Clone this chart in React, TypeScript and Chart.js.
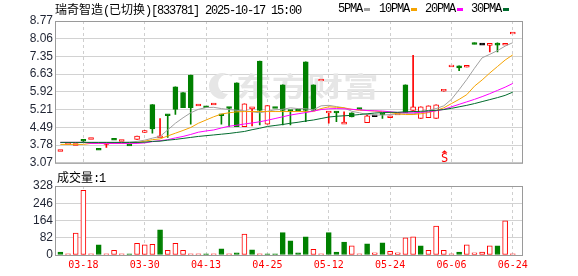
import React, { useEffect, useRef } from 'react';
import { Chart, registerables } from 'chart.js';

Chart.register(...registerables);

// ---------- data ----------
const stockName = '瑞奇智造';
const stockState = '已切换';
const stockCode = '833781';
const stampTime = '2025-10-17 15:00';
const volumeTitle = '成交量';
const volumeUnit = '1';

const maNames = ['5PMA', '10PMA', '20PMA', '30PMA'];
const maColors = ['#a0a0a0', '#f5a300', '#ff00ff', '#006b2d'];

const tickIndex = [3, 11, 19, 27, 35, 43, 51, 59];
const tickDates = ['03-18', '03-30', '04-13', '04-25', '05-12', '05-24', '06-06', '06-24'];

const priceTickLabels = ['3.07', '3.78', '4.49', '5.21', '5.92', '6.63', '7.35', '8.06', '8.77'];
const priceMin = 3.07;
const priceMax = 8.77;
const volTickValues = [0, 82, 164, 246, 328];
const volTickLabels = ['0', '82', '164', '246', '328'];

const openP = [
  3.56, 3.84, 3.80, 3.99, 4.04, 3.62, 3.84, 4.02, 3.96, 3.79,
  4.01, 4.29, 5.41, 4.09, 5.01, 6.12, 5.89, 6.60, 5.39, 5.33,
  5.43, 5.01, 5.30, 6.28, 4.52, 5.27, 7.16, 4.62, 5.30, 6.20,
  5.18, 5.19, 7.13, 6.20, 6.39, 5.10, 5.12, 4.64, 5.08, 5.26,
  4.68, 4.96, 5.05, 4.91, 5.03, 6.20, 5.18, 4.85, 4.88, 4.85,
  5.98, 6.96, 6.97, 6.92, 7.89, 7.84, 7.82, 7.85, 7.83, 8.28,
];
const highP = [
  3.57, 3.85, 3.81, 4.01, 4.05, 3.62, 3.86, 4.02, 3.97, 3.79,
  4.14, 4.37, 5.41, 4.85, 5.01, 6.12, 5.89, 6.60, 5.40, 5.33,
  5.44, 5.01, 5.30, 6.28, 5.44, 5.29, 7.16, 5.37, 5.30, 6.20,
  5.18, 5.19, 7.13, 6.20, 6.40, 5.12, 5.12, 5.12, 5.08, 5.26,
  5.01, 4.96, 5.05, 4.95, 5.04, 6.20, 7.39, 5.32, 5.36, 5.40,
  6.00, 6.97, 6.97, 6.98, 7.89, 7.84, 7.84, 7.89, 7.84, 8.29,
];
const lowP = [
  3.56, 3.84, 3.80, 3.91, 4.04, 3.61, 3.69, 4.01, 3.96, 3.78,
  4.01, 4.29, 4.26, 4.09, 4.09, 5.01, 5.29, 4.62, 5.39, 5.32,
  5.43, 4.62, 4.52, 4.52, 4.52, 4.55, 4.59, 4.62, 5.29, 4.59,
  4.59, 5.18, 4.72, 5.18, 6.39, 4.66, 4.72, 4.64, 4.91, 5.25,
  4.68, 4.96, 4.85, 4.89, 5.03, 5.09, 5.18, 4.85, 4.88, 4.85,
  5.95, 6.96, 6.77, 6.92, 7.85, 7.84, 7.53, 7.53, 7.83, 8.28,
];
const closeP = [
  3.57, 3.85, 3.81, 3.96, 4.05, 3.61, 3.86, 4.01, 3.97, 3.78,
  4.14, 4.37, 4.43, 4.14, 4.99, 5.22, 5.29, 5.29, 5.40, 5.32,
  5.44, 4.99, 5.28, 4.52, 5.44, 5.29, 5.18, 5.37, 5.29, 5.18,
  5.16, 5.18, 5.18, 5.18, 6.40, 5.12, 5.10, 4.69, 4.91, 5.25,
  4.96, 4.96, 5.03, 4.93, 5.04, 5.09, 5.32, 5.32, 5.36, 5.40,
  6.00, 6.97, 6.88, 6.98, 7.85, 7.84, 7.84, 7.83, 7.84, 8.29,
];

const ma5 = [
  3.89, 3.89, 3.89, 3.89, 3.89, 3.89, 3.89, 3.89, 3.89, 3.90,
  3.93, 3.98, 4.06, 4.13, 4.39, 4.66, 4.88, 5.08, 5.22, 5.29,
  5.30, 5.25, 5.21, 5.18, 5.16, 5.12, 5.08, 5.14, 5.20, 5.22,
  5.28, 5.25, 5.24, 5.20, 5.36, 5.38, 5.33, 5.28, 5.14, 5.08,
  5.01, 4.99, 4.99, 5.01, 5.03, 5.04, 5.04, 5.08, 5.18, 5.25,
  5.36, 5.62, 6.01, 6.42, 6.87, 7.29, 7.43, 7.58, 7.76, 7.90,
];
const ma10 = [
  3.81, 3.81, 3.81, 3.81, 3.85, 3.85, 3.85, 3.85, 3.85, 3.85,
  3.88, 3.94, 4.00, 4.03, 4.15, 4.26, 4.37, 4.49, 4.66, 4.79,
  4.92, 5.03, 5.08, 5.12, 5.13, 5.13, 5.13, 5.13, 5.13, 5.13,
  5.13, 5.13, 5.13, 5.13, 5.25, 5.32, 5.30, 5.28, 5.22, 5.18,
  5.17, 5.15, 5.12, 5.09, 5.04, 5.01, 5.01, 5.04, 5.09, 5.17,
  5.28, 5.45, 5.62, 5.81, 6.15, 6.40, 6.68, 6.94, 7.20, 7.41,
];
const ma20 = [
  3.89, 3.89, 3.89, 3.89, 3.85, 3.85, 3.85, 3.85, 3.85, 3.85,
  3.85, 3.87, 3.92, 3.96, 4.00, 4.07, 4.13, 4.21, 4.30, 4.35,
  4.39, 4.47, 4.54, 4.58, 4.63, 4.67, 4.72, 4.78, 4.85, 4.92,
  4.99, 5.04, 5.09, 5.15, 5.21, 5.24, 5.25, 5.24, 5.22, 5.20,
  5.17, 5.16, 5.15, 5.12, 5.09, 5.08, 5.08, 5.10, 5.12, 5.16,
  5.22, 5.32, 5.42, 5.52, 5.62, 5.73, 5.85, 5.98, 6.11, 6.26,
];
const ma30 = [
  3.89, 3.89, 3.89, 3.89, 3.89, 3.89, 3.89, 3.89, 3.89, 3.89,
  3.89, 3.90, 3.93, 3.94, 3.98, 4.01, 4.05, 4.09, 4.13, 4.16,
  4.19, 4.22, 4.25, 4.29, 4.33, 4.40, 4.46, 4.53, 4.57, 4.61,
  4.66, 4.70, 4.75, 4.79, 4.85, 4.91, 4.94, 4.96, 4.98, 5.01,
  5.04, 5.07, 5.09, 5.10, 5.10, 5.12, 5.13, 5.14, 5.16, 5.18,
  5.21, 5.26, 5.32, 5.38, 5.45, 5.53, 5.61, 5.69, 5.78, 5.91,
];

const volume = [
  14, 5, 104, 307, 5, 48, 5, 22, 5, 5,
  56, 48, 51, 120, 22, 56, 22, 5, 5, 5,
  5, 29, 5, 10, 99, 24, 5, 5, 5, 106,
  67, 10, 86, 27, 5, 106, 14, 62, 43, 5,
  53, 10, 58, 18, 10, 82, 86, 43, 22, 138,
  22, 5, 14, 48, 10, 14, 43, 43, 162, 5,
];
// 1 = rising (red hollow), 0 = falling (green)
const volumeUp = [
  0, 1, 1, 1, 1, 0, 1, 1, 1, 0,
  1, 1, 1, 0, 1, 1, 1, 1, 1, 0,
  1, 0, 1, 0, 1, 0, 1, 0, 0, 0,
  0, 0, 0, 1, 1, 0, 0, 0, 1, 1,
  0, 1, 0, 1, 1, 1, 1, 0, 1, 1,
  1, 1, 0, 1, 1, 1, 1, 0, 1, 1,
];

const signalIndex = 50;
const signalText = 'S';
const watermarkText = '东方财富';

// ---------- helpers ----------
const RED = '#ff0000';
const GREEN = '#008000';
const BLACK = '#000000';
const idx = closeP.map((_, i) => i);
const candleColor = idx.map((i) =>
  closeP[i] > openP[i] ? RED : closeP[i] < openP[i] ? GREEN : BLACK
);
const candleFill = idx.map((i) => (closeP[i] > openP[i] ? '#ffffff' : candleColor[i]));
const MIN_BODY = 0.075;
const bodyData = idx.map((i) => {
  let lo = Math.min(openP[i], closeP[i]);
  let hi = Math.max(openP[i], closeP[i]);
  if (hi - lo < MIN_BODY) {
    const mid = (hi + lo) / 2;
    lo = mid - MIN_BODY / 2;
    hi = mid + MIN_BODY / 2;
  }
  return { x: i, y: [lo, hi] };
});
const wickData = idx.map((i) => ({ x: i, y: [lowP[i], highP[i]] }));
const maSeries = [ma5, ma10, ma20, ma30];

const X_MIN = -0.7;
const X_MAX = 60.2;
const CJK = '"Noto Sans CJK SC", sans-serif';
const MONO = '"Liberation Mono", "DejaVu Sans Mono", monospace';
const AXIS_TEXT = '#1f2433';

const framePlugin = {
  id: 'frame',
  afterDraw(chart: any) {
    const { ctx, chartArea } = chart;
    ctx.save();
    ctx.strokeStyle = '#9a9a9a';
    ctx.lineWidth = 1;
    ctx.strokeRect(
      chartArea.left + 0.5,
      chartArea.top + 0.5,
      chartArea.right - chartArea.left,
      chartArea.bottom - chartArea.top
    );
    ctx.restore();
  },
};

const watermarkPlugin = {
  id: 'watermark',
  beforeDatasetsDraw(chart: any) {
    const { ctx, chartArea } = chart;
    ctx.save();
    ctx.fillStyle = '#e6e6e6';
    const lx = chartArea.left + 167;
    const ly = chartArea.top + 65;
    ctx.beginPath();
    ctx.arc(lx, ly, 13, Math.PI * 0.45, Math.PI * 1.75, false);
    ctx.arc(lx + 6, ly - 2, 10, Math.PI * 1.65, Math.PI * 0.5, true);
    ctx.closePath();
    ctx.fill();
    ctx.font = `bold 27px ${CJK}`;
    ctx.textBaseline = 'middle';
    ctx.translate(chartArea.left + 181, chartArea.top + 66);
    ctx.scale(1.32, 1);
    ctx.fillText(watermarkText, 0, 0);
    ctx.restore();
  },
};

const signalPlugin = {
  id: 'signal',
  afterDatasetsDraw(chart: any) {
    const { ctx, chartArea, scales } = chart;
    const x = Math.round(scales.x.getPixelForValue(signalIndex)) + 0.5;
    const b = chartArea.bottom;
    ctx.save();
    ctx.fillStyle = RED;
    ctx.beginPath();
    ctx.moveTo(x, b - 12.5);
    ctx.lineTo(x - 3, b - 10);
    ctx.lineTo(x + 3, b - 10);
    ctx.closePath();
    ctx.fill();
    ctx.font = '12px "DejaVu Sans Mono", monospace';
    ctx.textAlign = 'center';
    ctx.textBaseline = 'alphabetic';
    ctx.fillText(signalText, x, b - 1);
    ctx.restore();
  },
};

function xScale(showLabels: boolean, height: number) {
  return {
    type: 'linear',
    min: X_MIN,
    max: X_MAX,
    offset: false,
    afterBuildTicks: (s: any) => {
      s.ticks = tickIndex.map((v) => ({ value: v }));
    },
    afterFit: (s: any) => {
      s.height = height;
    },
    ticks: {
      display: showLabels,
      autoSkip: false,
      maxRotation: 0,
      padding: 4,
      color: RED,
      font: { family: '"DejaVu Sans Mono", monospace', size: 10 },
      callback: (v: number) => tickDates[tickIndex.indexOf(v)] ?? '',
    },
    grid: { color: '#cfcfcf', drawTicks: false, offset: false, lineWidth: 1 },
    border: { display: false, dash: [3, 3] },
  };
}

export default function App() {
  const priceRef = useRef<HTMLCanvasElement>(null);
  const volRef = useRef<HTMLCanvasElement>(null);

  useEffect(() => {
    const maOrder = [4, 3, 2, 1];
    const price = new Chart(priceRef.current as HTMLCanvasElement, {
      type: 'bar',
      data: {
        datasets: [
          ...maSeries.map((arr, k) => ({
            type: 'line' as const,
            label: maNames[k],
            data: idx.map((i) => ({ x: i, y: arr[i] })),
            borderColor: maColors[k],
            borderWidth: 1,
            pointRadius: 0,
            tension: 0,
            fill: false,
            order: maOrder[k],
          })),
          {
            type: 'bar' as const,
            label: 'body',
            data: bodyData as any,
            backgroundColor: candleFill,
            borderColor: candleColor,
            borderWidth: 1,
            borderSkipped: false,
            barThickness: 5,
            grouped: false,
            order: 5,
          },
          {
            type: 'bar' as const,
            label: 'wick',
            data: wickData as any,
            backgroundColor: candleColor,
            borderWidth: 0,
            barThickness: 1,
            grouped: false,
            order: 6,
          },
        ],
      },
      options: {
        animation: false,
        responsive: false,
        maintainAspectRatio: false,
        events: [],
        layout: { padding: { top: 21, right: 56, bottom: 7, left: 0 } },
        plugins: { legend: { display: false }, tooltip: { enabled: false } },
        scales: {
          x: xScale(false, 0) as any,
          y: {
            min: priceMin,
            max: priceMax,
            afterBuildTicks: (s: any) => {
              s.ticks = priceTickLabels.map((_, k) => ({
                value: priceMin + ((priceMax - priceMin) * k) / (priceTickLabels.length - 1),
              }));
            },
            afterFit: (s: any) => {
              s.width = 55;
            },
            ticks: {
              autoSkip: false,
              padding: 2,
              color: AXIS_TEXT,
              font: { family: '"Liberation Sans", Arial, sans-serif', size: 12 },
              callback: (_v: any, i: number) => priceTickLabels[i],
            },
            grid: { color: '#d2d2d2', drawTicks: false },
            border: { display: false },
          },
        },
      },
      plugins: [watermarkPlugin, signalPlugin, framePlugin],
    } as any);

    const vol = new Chart(volRef.current as HTMLCanvasElement, {
      type: 'bar',
      data: {
        datasets: [
          {
            label: volumeTitle,
            data: idx.map((i) => ({ x: i, y: volume[i] })) as any,
            backgroundColor: idx.map((i) => (volumeUp[i] ? '#ffffff' : GREEN)),
            borderColor: idx.map((i) => (volumeUp[i] ? RED : GREEN)),
            borderWidth: 1,
            borderSkipped: false,
            barThickness: 5,
            grouped: false,
          },
        ],
      },
      options: {
        animation: false,
        responsive: false,
        maintainAspectRatio: false,
        events: [],
        layout: { padding: { top: 20, right: 56, bottom: 0, left: 0 } },
        plugins: { legend: { display: false }, tooltip: { enabled: false } },
        scales: {
          x: xScale(true, 21) as any,
          y: {
            min: 0,
            max: volTickValues[volTickValues.length - 1],
            afterBuildTicks: (s: any) => {
              s.ticks = volTickValues.map((v) => ({ value: v }));
            },
            afterFit: (s: any) => {
              s.width = 55;
            },
            ticks: {
              autoSkip: false,
              padding: 2,
              color: AXIS_TEXT,
              font: { family: '"Liberation Sans", Arial, sans-serif', size: 12 },
              callback: (_v: any, i: number) => volTickLabels[i],
            },
            grid: { color: '#d2d2d2', drawTicks: false },
            border: { display: false },
          },
        },
      },
      plugins: [framePlugin],
    } as any);

    return () => {
      price.destroy();
      vol.destroy();
    };
  }, []);

  const legendX = [338, 379, 425, 471];
  const mono: React.CSSProperties = { fontFamily: MONO, letterSpacing: '-1.2px' };
  const cjk: React.CSSProperties = { fontFamily: CJK };

  return (
    <div
      style={{
        position: 'fixed',
        left: 0,
        top: 0,
        width: 578,
        height: 276,
        background: '#ffffff',
        overflow: 'hidden',
        color: '#000',
      }}
    >
      <canvas
        ref={priceRef}
        width={578}
        height={172}
        style={{ position: 'absolute', left: 0, top: 0, width: 578, height: 172 }}
      />
      <canvas
        ref={volRef}
        width={578}
        height={110}
        style={{ position: 'absolute', left: 0, top: 166, width: 578, height: 110 }}
      />
      <div
        style={{
          position: 'absolute',
          left: 55,
          top: 2,
          fontSize: 12,
          lineHeight: '14px',
          whiteSpace: 'pre',
        }}
      >
        <span style={cjk}>{stockName}</span>
        <span style={mono}>(</span>
        <span style={cjk}>{stockState}</span>
        <span style={mono}>{`)[${stockCode}] ${stampTime}`}</span>
      </div>
      {maNames.map((n, k) => (
        <div key={n}>
          <div
            style={{
              position: 'absolute',
              left: legendX[k],
              top: 2,
              fontSize: 12,
              lineHeight: '14px',
              whiteSpace: 'pre',
              ...mono,
            }}
          >
            {n}
          </div>
          <div
            style={{
              position: 'absolute',
              left: legendX[k] + n.length * 6 + 2,
              top: 8,
              width: 6,
              height: 3,
              background: maColors[k],
            }}
          />
        </div>
      ))}
      <div
        style={{
          position: 'absolute',
          left: 57,
          top: 170,
          fontSize: 12,
          lineHeight: '14px',
          whiteSpace: 'pre',
        }}
      >
        <span style={cjk}>{volumeTitle}</span>
        <span style={mono}>{`:${volumeUnit}`}</span>
      </div>
    </div>
  );
}
